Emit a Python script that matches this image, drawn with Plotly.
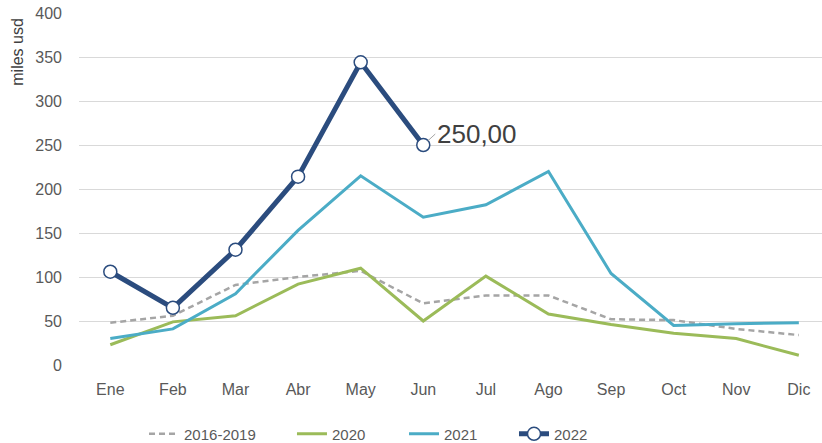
import plotly.graph_objects as go

months = ["Ene", "Feb", "Mar", "Abr", "May", "Jun", "Jul", "Ago", "Sep", "Oct", "Nov", "Dic"]
y_1619 = [48, 56, 91, 100, 107, 70, 79, 79, 52, 51, 41, 34]
y_2020 = [23, 49, 56, 92, 110, 50, 101, 58, 46, 36, 30, 11]
y_2021 = [30, 41, 81, 153, 215, 168, 182, 220, 104, 45, 47, 48]
y_2022 = [106, 65, 131, 214, 344, 250]
y_ticks = [0, 50, 100, 150, 200, 250, 300, 350, 400]

FONT = "Arial, Liberation Sans, sans-serif"

fig = go.Figure()
fig.add_trace(go.Scatter(x=months, y=y_1619, name="2016-2019", mode="lines", legend="legend",
                         line=dict(color="#A5A5A5", width=2.5, dash="6px,4px")))
fig.add_trace(go.Scatter(x=months, y=y_2020, name="2020", mode="lines", legend="legend2",
                         line=dict(color="#9BBB59", width=3)))
fig.add_trace(go.Scatter(x=months, y=y_2021, name="2021", mode="lines", legend="legend3",
                         line=dict(color="#4BACC6", width=3)))
fig.add_trace(go.Scatter(x=months[:len(y_2022)], y=y_2022, name="2022", mode="lines+markers",
                         legend="legend4",
                         line=dict(color="#2B4C7E", width=5),
                         marker=dict(symbol="circle", size=13, color="white",
                                     line=dict(color="#2B4C7E", width=1.5))))

last = y_2022[-1]
fig.add_annotation(x=months[len(y_2022) - 1], y=last,
                   text=f"{last:.2f}".replace(".", ","),
                   showarrow=True, arrowhead=0, arrowwidth=1, arrowcolor="#A6A6A6",
                   ax=12, ay=-11, xanchor="left", yanchor="middle", standoff=6,
                   font=dict(size=26, color="#404040", family=FONT))

fig.add_annotation(xref="paper", yref="paper", x=0, y=0.89, xshift=-61,
                   text="miles usd", textangle=-90, showarrow=False,
                   xanchor="center", yanchor="middle",
                   font=dict(size=16, color="#404040", family=FONT))

leg_common = dict(orientation="h", xref="container", yref="container",
                  y=0.0203, yanchor="middle", xanchor="left",
                  font=dict(size=15, color="#595959"), bgcolor="rgba(0,0,0,0)")

fig.update_layout(
    width=822, height=443,
    margin=dict(l=79, r=0, t=13, b=78),
    paper_bgcolor="white", plot_bgcolor="white",
    font=dict(family=FONT, size=16, color="#595959"),
    showlegend=True,
    legend=dict(x=0.1752, **leg_common),
    legend2=dict(x=0.3552, **leg_common),
    legend3=dict(x=0.4915, **leg_common),
    legend4=dict(x=0.6253, **leg_common),
    xaxis=dict(type="category", range=[-0.5, 11.37], showgrid=False, showline=False,
               ticks="", automargin=False, ticklabelstandoff=13, ticklabeloverflow="allow",
               tickfont=dict(size=16, color="#595959")),
    yaxis=dict(range=[0, 400], tickvals=y_ticks, showgrid=True, gridcolor="#D9D9D9",
               gridwidth=1, zeroline=False, showline=False, ticks="", automargin=False,
               ticklabelstandoff=16, ticklabeloverflow="allow",
               tickfont=dict(size=16, color="#595959")),
)

fig.write_html("out.html", config={"displayModeBar": False},
               post_script="document.body.style.margin='0';document.body.style.overflow='hidden';")
